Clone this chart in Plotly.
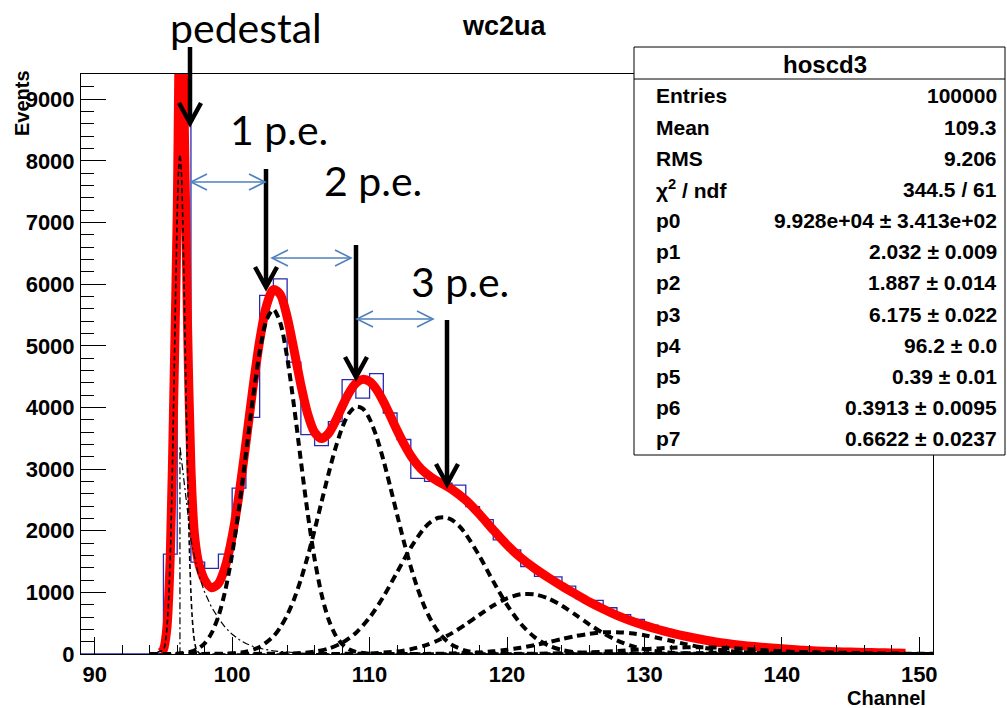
import plotly.graph_objects as go

# ---------------- data ----------------
bin_low_edges = list(range(89, 151))          # 1-channel bins, 89 ... 150
bin_counts = [0, 0, 0, 0, 0, 5, 1620, 8960, 1490, 1390,
              1620, 2690, 3840, 5820, 6085, 4735, 3560, 3380, 3770, 4450,
              4150, 4550, 3910, 3480, 2850, 2800, 2770, 2740, 2390, 2180,
              1850, 1690, 1420, 1260, 1250, 1100, 900, 870, 750, 640,
              560, 470, 400, 340, 290, 240, 205, 170, 140, 120,
              100, 85, 70, 55, 45, 38, 30, 25, 20, 17, 12, 10]

fit_x = [94.8, 95.0, 95.25, 95.5, 95.75, 96.0, 96.25, 96.5, 96.75, 97.0, 97.25, 97.5, 97.75,
         98.0, 98.5, 99.0, 99.5, 100.0, 100.5, 101.0, 101.5, 102.0, 102.5, 103.0, 103.5,
         104.0, 104.5, 105.0, 105.5, 106.0, 106.5, 107.0, 107.5, 108.0, 108.5, 109.0, 109.5,
         110.0, 110.5, 111.0, 111.5, 112.0, 112.5, 113.0, 113.5, 114.0, 114.5, 115.0, 115.5,
         116, 117, 118, 119, 120, 121, 122, 123, 124, 125, 126, 127, 128, 129, 130, 131, 132,
         133, 134, 135, 136, 137, 138, 139, 140, 141, 142, 143, 144, 145, 146, 147, 148, 149]
fit_y = [25, 72, 417, 1618, 4164, 7112, 11310, 8809, 5366, 3012, 1955, 1541, 1334,
         1198, 1075, 1142, 1417, 1904, 2590, 3420, 4295, 5082, 5653, 5913, 5835,
         5470, 4933, 4366, 3892, 3595, 3497, 3575, 3770, 4012, 4235, 4392, 4456,
         4420, 4294, 4100, 3869, 3630, 3408, 3217, 3065, 2950, 2866, 2798, 2736,
         2669, 2495, 2267, 2012, 1770, 1563, 1391, 1241, 1102, 971, 843, 730, 627, 540, 464, 398, 340,
         288, 243, 203, 171, 143, 120, 101, 84, 68, 55, 46, 37, 31, 24, 21, 17, 13]

ped_x = [94, 95.0, 95.2, 95.3, 95.4, 95.5, 95.6, 95.7, 95.8, 95.9, 96.0, 96.1, 96.2, 96.3, 96.4,
         96.5, 96.6, 96.7, 96.8, 96.9, 97.0, 97.1, 97.2, 97.3, 97.4, 97.6, 97.8, 98.5, 151]
ped_y = [0, 71, 303, 565, 989, 1618, 2482, 3563, 4790, 6028, 7106, 7841, 8104, 7841, 7106,
         6028, 4790, 3563, 2482, 1618, 989, 565, 303, 152, 71, 13, 1, 0, 0]

bkg_x = [94, 96.2, 96.2, 96.5, 97.0, 97.5, 98.0, 98.5, 99.0, 99.5, 100.0, 100.5, 101.0, 101.5,
         102, 103, 104, 105, 106, 107, 108, 109, 151]
bkg_y = [0, 0, 3370, 2760, 1850, 1330, 1000, 760, 580, 430, 320, 235, 170, 125,
         92, 50, 27, 14, 7, 3, 1, 0, 0]

pe1_x = [94, 96, 97, 97.5, 98, 98.5, 99, 99.5, 100, 100.5, 101, 101.5, 102, 102.5, 103, 103.5,
         104, 104.5, 105, 105.5, 106, 106.5, 107, 107.5, 108, 108.5, 109, 110, 111, 151]
pe1_y = [0, 6, 37, 84, 174, 338, 611, 1031, 1620, 2373, 3242, 4127, 4898, 5419, 5589, 5374,
         4816, 4024, 3134, 2276, 1540, 972, 571, 313, 160, 76, 34, 5, 0, 0]

pe2_x = [94, 100, 101, 102, 103, 103.5, 104, 104.5, 105, 105.5, 106, 106.5, 107, 107.5, 108,
         108.5, 109, 109.5, 110, 110.5, 111, 111.5, 112, 112.5, 113, 113.5, 114, 114.5, 115,
         115.5, 116, 117, 118, 119, 120, 151]
pe2_y = [0, 11, 38, 112, 285, 431, 629, 886, 1207, 1585, 2011, 2463, 2913, 3327, 3668,
         3904, 4012, 3981, 3815, 3529, 3152, 2718, 2263, 1819, 1412, 1058, 765, 535, 361,
         235, 148, 53, 16, 4, 0, 0]

pe3_x = [94, 104, 105, 106, 107, 108, 109, 110, 111, 112, 113, 114, 114.5, 115, 115.5, 116,
         116.5, 117, 118, 119, 120, 121, 122, 123, 124, 125, 126, 127, 128, 151]
pe3_y = [0, 6, 15, 38, 87, 181, 342, 591, 927, 1326, 1726, 2047, 2152, 2210, 2218, 2174,
         2081, 1946, 1587, 1178, 797, 490, 275, 140, 65, 28, 11, 4, 0, 0]

pe4_x = [94, 108, 110, 112, 113, 114, 115, 116, 117, 118, 119, 120, 121, 122, 123, 124, 125,
         126, 127, 128, 129, 130, 131, 132, 133, 134, 136, 151]
pe4_y = [0, 2, 9, 41, 78, 136, 223, 339, 481, 637, 786, 904, 969, 968, 902, 783, 634,
         478, 337, 221, 135, 77, 41, 20, 9, 4, 0, 0]

pe5_x = [94, 114, 116, 118, 119, 120, 121, 122, 123, 124, 125, 126, 127, 128, 129, 130, 131,
         132, 133, 134, 135, 136, 137, 138, 139, 140, 142, 144, 151]
pe5_y = [0, 2, 8, 26, 43, 68, 102, 144, 192, 243, 291, 328, 351, 354, 338, 305, 260,
         210, 160, 115, 78, 51, 31, 18, 10, 5, 1, 0, 0]

pe6_x = [94, 120, 122, 124, 126, 128, 130, 132, 134, 136, 138, 140, 142, 144, 146, 148, 151]
pe6_y = [0, 1, 4, 11, 26, 50, 78, 102, 110, 99, 73, 45, 23, 10, 3, 1, 0]

pe7_x = [94, 128, 131, 134, 137, 140, 143, 146, 149, 151]
pe7_y = [0, 2, 6, 14, 25, 29, 25, 14, 6, 3]

stats_names = ["Entries", "Mean", "RMS", "\u03c7<sup>2</sup> / ndf", "p0", "p1", "p2", "p3",
               "p4", "p5", "p6", "p7"]
stats_values = ["100000", "109.3", "9.206", "344.5 / 61", "9.928e+04 \u00b1 3.413e+02",
                "2.032 \u00b1 0.009", "1.887 \u00b1 0.014", "6.175 \u00b1 0.022", "96.2 \u00b1 0.0",
                "0.39 \u00b1 0.01", "0.3913 \u00b1 0.0095", "0.6622 \u00b1 0.0237"]

# ---------------- figure ----------------
W_PX, H_PX = 1007, 708
L, R, T, B = 81, 933, 74, 654


def px(x):
    return (x - L) / (R - L)


def py(y):
    return (B - y) / (B - T)


fig = go.Figure()

hist_x = bin_low_edges + [bin_low_edges[-1] + 1]
hist_y = bin_counts + [bin_counts[-1]]
fig.add_trace(go.Scatter(x=hist_x, y=hist_y, mode="lines",
                         line=dict(shape="hv", color="#2a2ab0", width=1.3), hoverinfo="skip"))

fig.add_trace(go.Scatter(x=fit_x, y=fit_y, mode="lines",
                         line=dict(shape="spline", smoothing=0.8, color="#ff0000", width=9),
                         hoverinfo="skip"))

fig.add_trace(go.Scatter(x=ped_x, y=ped_y, mode="lines",
                         line=dict(shape="spline", smoothing=0.6, color="black", width=1.6,
                                   dash="5px,3px"), hoverinfo="skip"))
fig.add_trace(go.Scatter(x=bkg_x, y=bkg_y, mode="lines",
                         line=dict(shape="linear", color="black", width=1.2,
                                   dash="7px,3px,2px,3px"), hoverinfo="skip"))

for cx, cy in [(pe1_x, pe1_y), (pe2_x, pe2_y), (pe3_x, pe3_y), (pe4_x, pe4_y),
               (pe5_x, pe5_y), (pe6_x, pe6_y), (pe7_x, pe7_y)]:
    fig.add_trace(go.Scatter(x=cx, y=cy, mode="lines",
                             line=dict(shape="spline", smoothing=0.8, color="black", width=4,
                                       dash="8px,5px"), hoverinfo="skip"))

tickfont = dict(family="Liberation Sans", size=22, color="black", weight="bold")
fig.update_layout(
    width=W_PX, height=H_PX,
    margin=dict(l=L, r=W_PX - R, t=T, b=H_PX - B, pad=0),
    paper_bgcolor="white", plot_bgcolor="white", showlegend=False,
    font=dict(family="Liberation Sans", color="black"),
    xaxis=dict(range=[89, 151], showgrid=False, zeroline=False, showline=True,
               linecolor="black", linewidth=1, mirror=True, ticks="inside", ticklen=17,
               tickwidth=1, tickcolor="black", tick0=90, dtick=10, tickfont=tickfont,
               ticklabelstandoff=1,
               minor=dict(ticks="inside", ticklen=9, tick0=90, dtick=2, tickcolor="black",
                          tickwidth=1, showgrid=False)),
    yaxis=dict(range=[0, 9410], showgrid=False, zeroline=False, showline=True,
               linecolor="black", linewidth=1, mirror=True, ticks="inside", ticklen=25,
               tickwidth=1, tickcolor="black", tick0=0, dtick=1000, tickfont=tickfont,
               ticklabelstandoff=1,
               minor=dict(ticks="inside", ticklen=13, tick0=0, dtick=200, tickcolor="black",
                          tickwidth=1, showgrid=False)),
)

shapes = []
# black arrows: (x, y_top, y_tip)
for ax_, ytop, ytip in [(190, 47, 123), (266, 169, 287), (356, 245, 377), (447, 320, 484)]:
    shapes.append(dict(type="line", xref="paper", yref="paper", x0=px(ax_), x1=px(ax_),
                       y0=py(ytop), y1=py(ytip - 2), line=dict(color="black", width=4.5),
                       layer="above"))
    shapes.append(dict(type="path", xref="paper", yref="paper",
                       path="M {} {} L {} {} L {} {}".format(px(ax_ - 11), py(ytip - 20),
                                                             px(ax_), py(ytip),
                                                             px(ax_ + 11), py(ytip - 20)),
                       line=dict(color="black", width=4.5), layer="above"))
# blue double arrows: (x_left, x_right, y)
blue = "#4f81bd"
for xa, xb, yy in [(191, 265, 182), (272, 351, 258), (357, 433, 319)]:
    shapes.append(dict(type="line", xref="paper", yref="paper", x0=px(xa), x1=px(xb),
                       y0=py(yy), y1=py(yy), line=dict(color=blue, width=1.6), layer="above"))
    shapes.append(dict(type="path", xref="paper", yref="paper",
                       path="M {} {} L {} {} L {} {}".format(px(xa + 16), py(yy - 8), px(xa), py(yy),
                                                             px(xa + 16), py(yy + 8)),
                       line=dict(color=blue, width=1.6), layer="above"))
    shapes.append(dict(type="path", xref="paper", yref="paper",
                       path="M {} {} L {} {} L {} {}".format(px(xb - 16), py(yy - 8), px(xb), py(yy),
                                                             px(xb - 16), py(yy + 8)),
                       line=dict(color=blue, width=1.6), layer="above"))
# stats box
BX0, BX1, BY0, BY1 = 634, 1005, 47, 455
shapes.append(dict(type="rect", xref="paper", yref="paper", x0=px(BX0), x1=px(BX1),
                   y0=py(BY0), y1=py(BY1), fillcolor="white", line=dict(color="black", width=1),
                   layer="above"))
shapes.append(dict(type="line", xref="paper", yref="paper", x0=px(BX0), x1=px(BX1),
                   y0=py(79), y1=py(79), line=dict(color="black", width=1), layer="above"))
fig.update_layout(shapes=shapes)

ann = []
ann.append(dict(text="hoscd3", x=px(825), y=py(64), xref="paper", yref="paper",
                showarrow=False, xanchor="center", yanchor="middle",
                font=dict(family="Liberation Sans", size=24, color="black", weight="bold")))
for i, (nm, vl) in enumerate(zip(stats_names, stats_values)):
    yy = 96 + i * 31.15
    ann.append(dict(text=nm, x=px(654), y=py(yy), xref="paper", yref="paper", showarrow=False,
                    xanchor="left", yanchor="middle",
                    font=dict(family="Liberation Sans", size=21, color="black", weight="bold")))
    ann.append(dict(text=vl, x=px(999), y=py(yy), xref="paper", yref="paper", showarrow=False,
                    xanchor="right", yanchor="middle",
                    font=dict(family="Liberation Sans", size=21, color="black", weight="bold")))

ann.append(dict(text="wc2ua", x=px(504), y=py(26), xref="paper", yref="paper", showarrow=False,
                xanchor="center", yanchor="middle",
                font=dict(family="Liberation Sans", size=27, color="black", weight="bold")))
ann.append(dict(text="Events", x=px(22), y=py(103), xref="paper", yref="paper", showarrow=False,
                xanchor="center", yanchor="middle", textangle=-90,
                font=dict(family="Liberation Sans", size=20, color="black", weight="bold")))
ann.append(dict(text="Channel", x=px(928), y=py(698), xref="paper", yref="paper", showarrow=False,
                xanchor="right", yanchor="middle",
                font=dict(family="Liberation Sans", size=20, color="black", weight="bold")))

big = dict(family="Lato", size=41, color="black")
ann.append(dict(text="pedestal", x=px(246), y=py(1), xref="paper", yref="paper", showarrow=False,
                xanchor="center", yanchor="top", font=big))
for txt, cx, cy in [("1 p.e.", 279, 129), ("2 p.e.", 373, 180), ("3 p.e.", 460, 281)]:
    ann.append(dict(text=txt, x=px(cx), y=py(cy), xref="paper", yref="paper", showarrow=False,
                    xanchor="center", yanchor="middle", font=big))
fig.update_layout(annotations=ann)

fig.write_html("out.html")
